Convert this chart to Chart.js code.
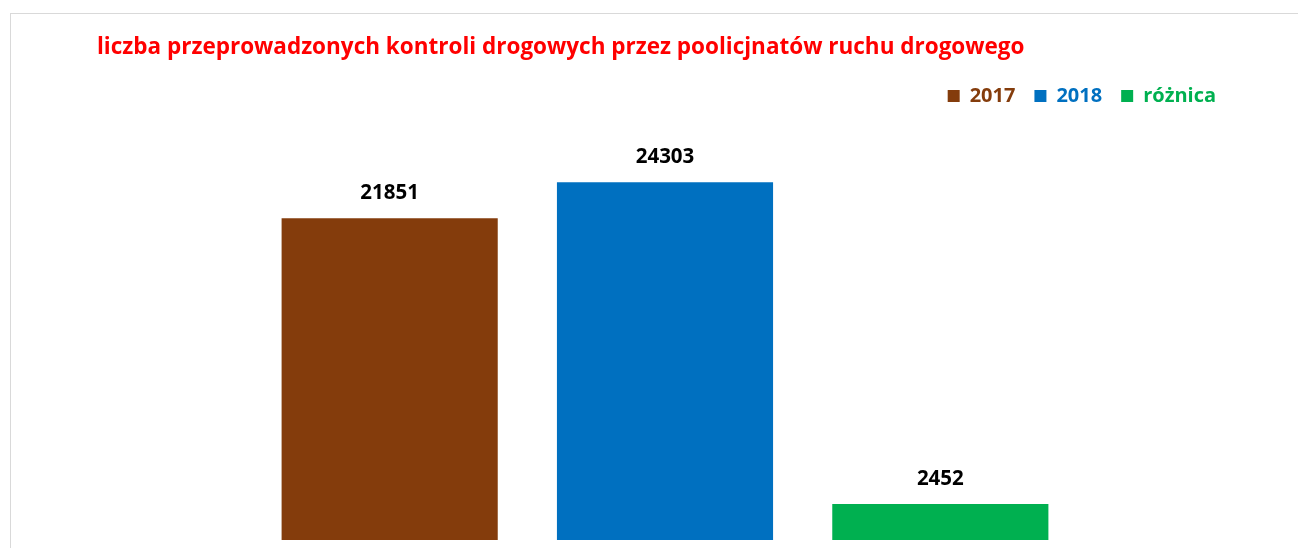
<!DOCTYPE html>
<html>
<head>
<meta charset="utf-8">
<script src="https://cdn.jsdelivr.net/npm/chart.js@4"></script>
<style>
  html, body { margin: 0; padding: 0; background: #fff; overflow: hidden; }
  #frame {
    position: absolute; left: 10px; top: 13px; width: 1400px; height: 700px;
    border-left: 1px solid #d9d9d9; border-top: 1px solid #d9d9d9;
  }
  #kontrole { position: absolute; left: 0; top: 0; }
</style>
</head>
<body>
<div id="frame"></div>
<canvas id="kontrole" width="1298" height="548"></canvas>
<script>
const categories = ['2017', '2018', 'różnica'];
const controls = [21851, 24303, 2452];
const barColors = ['#843C0C', '#0070C0', '#00B050'];
const chartTitle = 'liczba przeprowadzonych kontroli drogowych przez poolicjnatów ruchu drogowego';

document.addEventListener('DOMContentLoaded', function () {

    const ctx = document.getElementById('kontrole').getContext('2d');

    // values above each bar
    const valueLabels = {
        id: 'valueLabels',
        afterDatasetsDraw(chart) {
            const c = chart.ctx;
            c.save();
            c.font = 'bold 20.5px "Open Sans"';
            c.fillStyle = '#000';
            c.textAlign = 'center';
            c.textBaseline = 'middle';
            chart.getDatasetMeta(0).data.forEach(function (bar, i) {
                c.fillText(controls[i], bar.x, bar.y - 25);
            });
            c.restore();
        }
    };

    new Chart(ctx, {
        type: 'bar',
        data: {
            labels: categories,
            datasets: [{
                label: 'kontrole',
                data: controls,
                backgroundColor: barColors,
                borderWidth: 0,
                barPercentage: 0.785,
                categoryPercentage: 1
            }]
        },
        options: {
            responsive: false,
            animation: false,
            layout: {
                padding: { left: 97, right: 63, top: 20, bottom: 8 }
            },
            plugins: {
                title: {
                    display: true,
                    text: chartTitle,
                    align: 'start',
                    color: '#FF0000',
                    font: { family: 'Open Sans', size: 22.5, weight: 'bold' },
                    padding: { top: 14, bottom: 6 }
                },
                legend: {
                    display: true,
                    position: 'top',
                    align: 'end',
                    labels: {
                        boxWidth: 12,
                        boxHeight: 12,
                        padding: 19,
                        font: { family: 'Open Sans', size: 20, weight: 'bold' },
                        generateLabels: function () {
                            return categories.map(function (name, i) {
                                return {
                                    text: name,
                                    fillStyle: barColors[i],
                                    strokeStyle: barColors[i],
                                    fontColor: barColors[i],
                                    lineWidth: 0,
                                    index: i
                                };
                            });
                        }
                    },
                    onClick: null
                },
                tooltip: { enabled: false }
            },
            scales: {
                x: {
                    display: false
                },
                y: {
                    min: 0,
                    max: 28800,
                    ticks: { display: false },
                    grid: { display: false },
                    border: { display: false },
                    afterFit: function (axis) { axis.width = 155; }
                },
                yRight: {
                    position: 'right',
                    ticks: { display: false },
                    grid: { display: false },
                    border: { display: false },
                    afterFit: function (axis) { axis.width = 157; }
                }
            }
        },
        plugins: [valueLabels]
    });

});
</script>
</body>
</html>
